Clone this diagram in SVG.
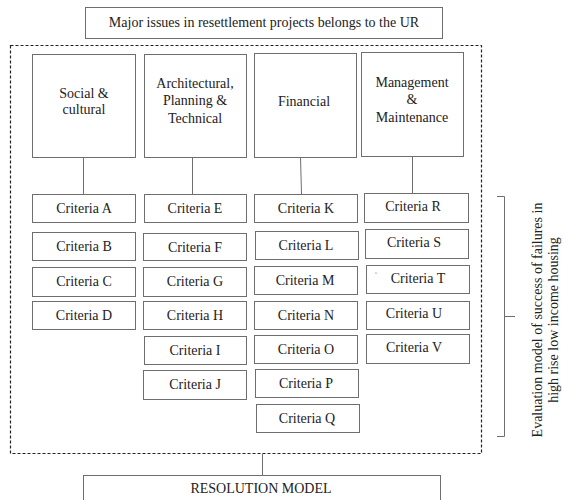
<svg xmlns="http://www.w3.org/2000/svg" width="564" height="500" viewBox="0 0 564 500">
<style>
.b{fill:#fff;stroke:#6e6e6e;stroke-width:1}
.t{font-family:"Liberation Serif","Times New Roman",serif;font-size:14px;fill:#222;text-anchor:middle}
.c{fill:none;stroke:#6e6e6e;stroke-width:1}
</style>
<rect width="564" height="500" fill="#fff"/>
<g id="top"><rect class="b" x="85.5" y="7.5" width="357" height="31"/><text class="t" x="264" y="27">Major issues in resettlement projects belongs to the UR</text></g>
<g id="frame"><rect x="10.5" y="45.5" width="471" height="408" fill="none" stroke="#222" stroke-width="1.2" stroke-dasharray="3,2"/></g>
<g id="connectors">
<line class="c" x1="83.5" y1="157" x2="83.5" y2="194"/>
<line class="c" x1="192.5" y1="157" x2="192.5" y2="194"/>
<line class="c" x1="300.5" y1="157" x2="301.5" y2="194"/>
<line class="c" x1="412.5" y1="156" x2="412.5" y2="193"/>
<line class="c" x1="262.5" y1="454" x2="262.5" y2="475"/>
<path class="c" d="M497 196.5H504.5V436.5H497M504.5 316.5H515"/>
</g>
<g id="social"><rect class="b" x="32.5" y="54.5" width="103" height="103"/><text class="t" x="84" y="98">Social &amp;</text><text class="t" x="84" y="114">cultural</text></g>
<g id="arch"><rect class="b" x="144.5" y="54.5" width="102" height="103"/><text class="t" x="195" y="88">Architectural,</text><text class="t" x="195" y="105">Planning &amp;</text><text class="t" x="195" y="123">Technical</text></g>
<g id="fin"><rect class="b" x="254.5" y="53.5" width="102" height="104"/><text class="t" x="304" y="106">Financial</text></g>
<g id="mgmt"><rect class="b" x="361.5" y="52.5" width="102" height="104"/><text class="t" x="412" y="87">Management</text><text class="t" x="412" y="104">&amp;</text><text class="t" x="412" y="122">Maintenance</text></g>
<g id="cA"><rect class="b" x="32.5" y="194.5" width="103" height="28"/><text class="t" x="84" y="213">Criteria A</text></g>
<g id="cB"><rect class="b" x="32.5" y="232.5" width="103" height="28"/><text class="t" x="84" y="251">Criteria B</text></g>
<g id="cC"><rect class="b" x="32.5" y="267.5" width="103" height="29"/><text class="t" x="84" y="286">Criteria C</text></g>
<g id="cD"><rect class="b" x="32.5" y="301.5" width="103" height="28"/><text class="t" x="84" y="320">Criteria D</text></g>
<g id="cE"><rect class="b" x="144.5" y="194.5" width="102" height="28"/><text class="t" x="195" y="213">Criteria E</text></g>
<g id="cF"><rect class="b" x="143.5" y="233.5" width="103" height="27"/><text class="t" x="195" y="252">Criteria F</text></g>
<g id="cG"><rect class="b" x="143.5" y="267.5" width="103" height="29"/><text class="t" x="195" y="286">Criteria G</text></g>
<g id="cH"><rect class="b" x="143.5" y="301.5" width="103" height="28"/><text class="t" x="195" y="320">Criteria H</text></g>
<g id="cI"><rect class="b" x="144.5" y="336.5" width="102" height="28"/><text class="t" x="195" y="355">Criteria I</text></g>
<g id="cJ"><rect class="b" x="143.5" y="370.5" width="103" height="29"/><text class="t" x="195" y="389">Criteria J</text></g>
<g id="cK"><rect class="b" x="254.5" y="194.5" width="103" height="28"/><text class="t" x="306" y="213">Criteria K</text></g>
<g id="cL"><rect class="b" x="255.5" y="231.5" width="103" height="28"/><text class="t" x="306" y="250">Criteria L</text></g>
<g id="cM"><rect class="b" x="254.5" y="266.5" width="103" height="28"/><text class="t" x="305" y="285">Criteria M</text></g>
<g id="cN"><rect class="b" x="254.5" y="301.5" width="103" height="28"/><text class="t" x="306" y="320">Criteria N</text></g>
<g id="cO"><rect class="b" x="254.5" y="335.5" width="103" height="28"/><text class="t" x="306" y="354">Criteria O</text></g>
<g id="cP"><rect class="b" x="255.5" y="369.5" width="103" height="28"/><text class="t" x="306" y="388">Criteria P</text></g>
<g id="cQ"><rect class="b" x="256.5" y="404.5" width="103" height="28"/><text class="t" x="307" y="423">Criteria Q</text></g>
<g id="cR"><rect class="b" x="364.5" y="193.5" width="104" height="29"/><text class="t" x="413" y="211">Criteria R</text></g>
<g id="cS"><rect class="b" x="365.5" y="229.5" width="103" height="29"/><text class="t" x="414" y="247">Criteria S</text></g>
<g id="cT"><rect class="b" x="366.5" y="265.5" width="103" height="28"/><circle cx="376" cy="273" r="0.6" fill="#3344cc"/><text class="t" x="418" y="283">Criteria T</text></g>
<g id="cU"><rect class="b" x="366.5" y="301.5" width="103" height="28"/><text class="t" x="414" y="318">Criteria U</text></g>
<g id="cV"><rect class="b" x="366.5" y="334.5" width="103" height="29"/><text class="t" x="414" y="352">Criteria V</text></g>
<g id="eval"><text class="t" transform="translate(542,320) rotate(-90)">Evaluation model of success of failures in</text><text class="t" transform="translate(558,320) rotate(-90)">high rise low income housing</text></g>
<g id="resolution"><rect class="b" x="83.5" y="475.5" width="357" height="30"/><text class="t" x="261" y="493">RESOLUTION MODEL</text></g>
</svg>
